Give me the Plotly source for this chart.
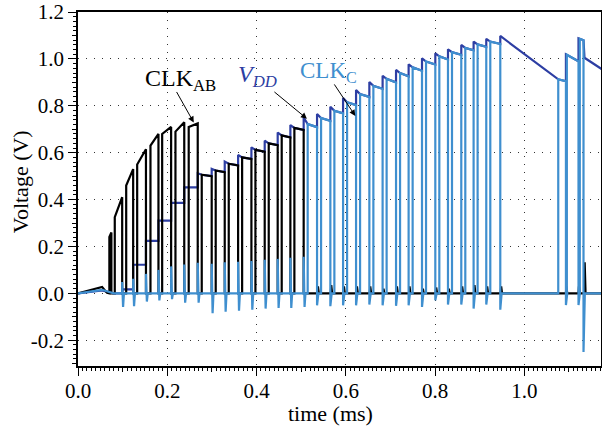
import plotly.graph_objects as go

# ---------------- waveform data (time in ms, voltage in V) ----------------

# Start-up ramp before the first clock pulse
start_t = [0.0, 0.054, 0.065]
start_ab = [0.0, 0.027, 0.002]
start_c_t = [0.0, 0.054, 0.080]
start_c = [0.0, 0.015, 0.0]
start_vdd = [0.0, 0.012, 0.0]

# CLK_AB start-up pulses: rising edge, falling edge, top level at rise / at fall
ab1_rise = [0.0703, 0.0824, 0.1080, 0.1326, 0.1624, 0.1886, 0.2184, 0.2481]
ab1_fall = [0.0748, 0.0990, 0.1236, 0.1523, 0.1803, 0.2087, 0.2381, 0.2683]
ab1_top0 = [0.24, 0.325, 0.46, 0.55, 0.63, 0.68, 0.69, 0.71]
ab1_top1 = [0.26, 0.41, 0.53, 0.615, 0.68, 0.71, 0.73, 0.725]

# VDD staircase during start-up (new level after a CLK_AB falling edge)
vdd_step_t = [0.0990, 0.1236, 0.1523, 0.1803, 0.2087, 0.2381]
vdd_step_v = [0.017, 0.122, 0.224, 0.310, 0.386, 0.452]

# Pumping regime: clock falling edges, VDD just before / after the jump,
# then the time and VDD level when the clock goes high again
pump_fall = [0.2683, 0.2996, 0.3288, 0.3588, 0.3886, 0.4184, 0.4475, 0.4759,
             0.5057, 0.5357, 0.5655, 0.5940, 0.6231, 0.6529, 0.6826, 0.7127,
             0.7409, 0.7709, 0.8007, 0.8291, 0.8589, 0.8865, 0.9149, 0.9463]
pump_pre = [0.452, 0.500, 0.517, 0.546, 0.573, 0.604, 0.632, 0.665,
            0.697, 0.709, 0.736, 0.768, 0.803, 0.838, 0.873, 0.900,
            0.926, 0.950, 0.976, 0.998, 1.018, 1.037, 1.052, 1.064]
pump_peak = [0.512, 0.531, 0.562, 0.590, 0.623, 0.651, 0.686, 0.718,
             0.750, 0.765, 0.796, 0.833, 0.867, 0.902, 0.928, 0.953,
             0.977, 1.003, 1.024, 1.041, 1.060, 1.074, 1.086, 1.098]
pump_rise_t = [0.2773, 0.3086, 0.3378, 0.3678, 0.3976, 0.4274, 0.4565, 0.4849,
               0.5147, 0.5447, 0.5745, 0.6030, 0.6321, 0.6619, 0.6916, 0.7217,
               0.7499, 0.7799, 0.8097, 0.8381, 0.8679, 0.8955, 0.9239]
pump_rise_v = [0.506, 0.524, 0.553, 0.580, 0.612, 0.640, 0.674, 0.706,
               0.722, 0.748, 0.779, 0.815, 0.850, 0.885, 0.915, 0.940,
               0.964, 0.989, 1.011, 1.029, 1.047, 1.062, 1.074]
n_ab_pulses = 8  # the first pumping pulses are driven by CLK_AB, the rest by CLK_C

# CLK_C glitches at each CLK_AB falling edge (up then down)
glitch_t = [0.0990, 0.1236, 0.1523, 0.1803, 0.2087, 0.2381, 0.2683, 0.2996,
            0.3288, 0.3588, 0.3886, 0.4184, 0.4475, 0.4759, 0.5057]
glitch_hi = [0.048, 0.062, 0.083, 0.100, 0.115, 0.123, 0.130, 0.126,
             0.133, 0.135, 0.138, 0.143, 0.147, 0.152, 0.156]
glitch_lo = [-0.058, -0.055, -0.035, -0.030, -0.025, -0.040, -0.040, -0.085,
             -0.078, -0.074, -0.070, -0.065, -0.062, -0.062, -0.058]

# CLK_C undershoot at its own falling edges
c_under = [-0.051, -0.055, -0.051, -0.051, -0.048, -0.051, -0.053, -0.051,
           -0.058, -0.030, -0.048, -0.048, -0.065, -0.048, -0.070]
# CLK_AB coupling blips while CLK_C is pumping
ab_blip = [0.030, 0.035, 0.030, 0.030, 0.030, 0.020, 0.030, 0.030,
           0.020, 0.025, 0.020, 0.030, 0.035, 0.030, 0.030]

# Idle decay and the late CLK_C burst
tail_t = [1.0762, 1.0934, 1.0934, 1.1216, 1.1216, 1.1328, 1.1350, 1.1750]
tail_vdd = [0.913, 0.905, 1.020, 0.990, 1.088, 1.080, 1.005, 0.955]
late_rise = [1.0762, 1.0955, 1.1245]
late_fall = [1.0934, 1.1216, 1.1328]
late_top0 = [0.913, 1.018, 1.086]
late_top1 = [0.905, 0.990, 1.080]
late_under = [-0.050, -0.050, -0.250]
late_ab_t = [1.0934, 1.1216, 1.1344]
late_ab_blip = [0.030, 0.030, 0.133]
t_end = 1.1750

# Axis ticks
x_major = [0.0, 0.2, 0.4, 0.6, 0.8, 1.0]
x_major_text = ["0.0", "0.2", "0.4", "0.6", "0.8", "1.0"]
x_mid = [0.1, 0.3, 0.5, 0.7, 0.9, 1.1]
y_major = [-0.2, 0.0, 0.2, 0.4, 0.6, 0.8, 1.0, 1.2]
y_major_text = ["-0.2", "0.0", "0.2", "0.4", "0.6", "0.8", "1.0", "1.2"]
y_mid = [-0.3, -0.1, 0.1, 0.3, 0.5, 0.7, 0.9, 1.1]

# ---------------- build the polylines ----------------
# VDD
vt, vv = list(start_c_t), list(start_vdd)
level = 0.0
for t, v in zip(vdd_step_t, vdd_step_v):
    vt += [t, t]
    vv += [level, v]
    level = v
for k, f in enumerate(pump_fall):
    vt += [f, f]
    vv += [pump_pre[k], pump_peak[k]]
    if k < len(pump_rise_t):
        vt.append(pump_rise_t[k])
        vv.append(pump_rise_v[k])
vt += tail_t
vv += tail_vdd

# CLK_AB
at, av = list(start_t), list(start_ab)
for r, f, a, b in zip(ab1_rise, ab1_fall, ab1_top0, ab1_top1):
    at += [r, r, f, f]
    av += [0.0, a, b, 0.0]
for k in range(n_ab_pulses):
    r, f = pump_rise_t[k], pump_fall[k + 1]
    at += [r, r, f, f]
    av += [0.0, pump_rise_v[k], pump_pre[k + 1], 0.0]
for f, h in zip(pump_fall[n_ab_pulses + 1:], ab_blip):
    at += [f + 0.001, f + 0.002, f + 0.004]
    av += [0.0, h, 0.0]
for f, h in zip(late_ab_t, late_ab_blip):
    at += [f, f + 0.001, f + 0.003]
    av += [0.0, h, 0.0]
at.append(t_end)
av.append(0.0)

# CLK_C
ct, cv = list(start_c_t), list(start_c)
for t, hi, lo in zip(glitch_t, glitch_hi, glitch_lo):
    ct += [t, t, t + 0.002, t + 0.004]
    cv += [0.0, hi, lo, 0.0]
for j, k in enumerate(range(n_ab_pulses, len(pump_rise_t))):
    r, f = pump_rise_t[k], pump_fall[k + 1]
    ct += [r, r, f, f, f + 0.003]
    cv += [0.0, pump_rise_v[k], pump_pre[k + 1], c_under[j], 0.0]
for r, f, a, b, u in zip(late_rise, late_fall, late_top0, late_top1, late_under):
    ct += [r, r, f, f, f + 0.003]
    cv += [0.0, a, b, u, 0.0]
ct.append(t_end)
cv.append(0.0)

# ---------------- figure ----------------
SERIF = "Liberation Serif"
VDD_COLOR = "#2d3ea3"
C_COLOR = "#3f8fcf"
LW = 2.2

fig = go.Figure()
fig.add_trace(go.Scatter(x=vt, y=vv, mode="lines", line=dict(color=VDD_COLOR, width=LW),
                         name="VDD", hoverinfo="skip"))
fig.add_trace(go.Scatter(x=at, y=av, mode="lines", line=dict(color="black", width=LW),
                         name="CLK_AB", hoverinfo="skip"))
fig.add_trace(go.Scatter(x=ct, y=cv, mode="lines", line=dict(color=C_COLOR, width=LW),
                         name="CLK_C", hoverinfo="skip"))
# empty trace that carries the intermediate tick axes
fig.add_trace(go.Scatter(x=[None], y=[None], xaxis="x2", yaxis="y2",
                         showlegend=False, hoverinfo="skip"))

XR = [0.0, 1.172]
YR = [-0.31, 1.2003]
grid_dash = "1px,7px"
tick_font = dict(family=SERIF, size=21, color="black")

fig.update_layout(
    template="none",
    width=602, height=427,
    margin=dict(l=78, r=1, t=12, b=61),
    paper_bgcolor="white", plot_bgcolor="white",
    showlegend=False,
    font=dict(family=SERIF, size=21, color="black"),
    xaxis=dict(
        range=XR, tickmode="array", tickvals=x_major, ticktext=x_major_text,
        tickfont=tick_font, ticklabelstandoff=-3, ticklabeloverflow="allow",
        ticks="outside", ticklen=8, tickwidth=1, tickcolor="black",
        showline=True, linecolor="black", linewidth=1.5, mirror=True,
        showgrid=True, gridcolor="#333333", gridwidth=1, griddash=grid_dash,
        zeroline=False,
        minor=dict(tick0=0, dtick=0.01, ticks="outside", ticklen=3,
                   tickcolor="black", showgrid=False),
    ),
    yaxis=dict(
        range=YR, tickmode="array", tickvals=y_major, ticktext=y_major_text,
        tickfont=tick_font, ticklabeloverflow="allow",
        ticks="outside", ticklen=8, tickwidth=1, tickcolor="black",
        showline=True, linecolor="black", linewidth=1.5, mirror=True,
        showgrid=True, gridcolor="#333333", gridwidth=1, griddash=grid_dash,
        zeroline=False,
        minor=dict(tick0=0, dtick=0.02, ticks="outside", ticklen=3,
                   tickcolor="black", showgrid=False),
    ),
    xaxis2=dict(range=XR, overlaying="x", anchor="y", side="bottom",
                tickmode="array", tickvals=x_mid, ticks="outside", ticklen=5,
                tickcolor="black", showticklabels=False, showgrid=False,
                showline=False, zeroline=False),
    yaxis2=dict(range=YR, overlaying="y", anchor="x", side="left",
                tickmode="array", tickvals=y_mid, ticks="outside", ticklen=5,
                tickcolor="black", showticklabels=False, showgrid=False,
                showline=False, zeroline=False),
)

# axis titles
fig.add_annotation(text="time (ms)", xref="paper", yref="paper", x=0.482, y=-0.134,
                   showarrow=False, font=dict(family=SERIF, size=22),
                   xanchor="center", yanchor="middle")
fig.add_annotation(text="Voltage (V)", xref="paper", yref="paper", x=-0.111, y=0.522,
                   showarrow=False, textangle=-90, font=dict(family=SERIF, size=22),
                   xanchor="center", yanchor="middle")

# signal labels
fig.add_annotation(text="CLK<sub>AB</sub>", x=0.2307, y=0.911, showarrow=False,
                   font=dict(family=SERIF, size=24, color="black"))
fig.add_annotation(text="<i>V<sub>DD</sub></i>", x=0.402, y=0.928, showarrow=False,
                   font=dict(family=SERIF, size=24, color=VDD_COLOR))
fig.add_annotation(text="CLK<sub>C</sub>", x=0.561, y=0.945, showarrow=False,
                   font=dict(family=SERIF, size=23, color=C_COLOR))

# pointer arrows
for hx, hy, dx, dy in [(0.2594, 0.729, -18, -32), (0.513, 0.745, -34, -28),
                       (0.6215, 0.757, -22, -33)]:
    fig.add_annotation(x=hx, y=hy, ax=dx, ay=dy, text="", showarrow=True,
                       arrowhead=2, arrowsize=1.2, arrowwidth=1, arrowcolor="black")

fig.write_html("out.html")
